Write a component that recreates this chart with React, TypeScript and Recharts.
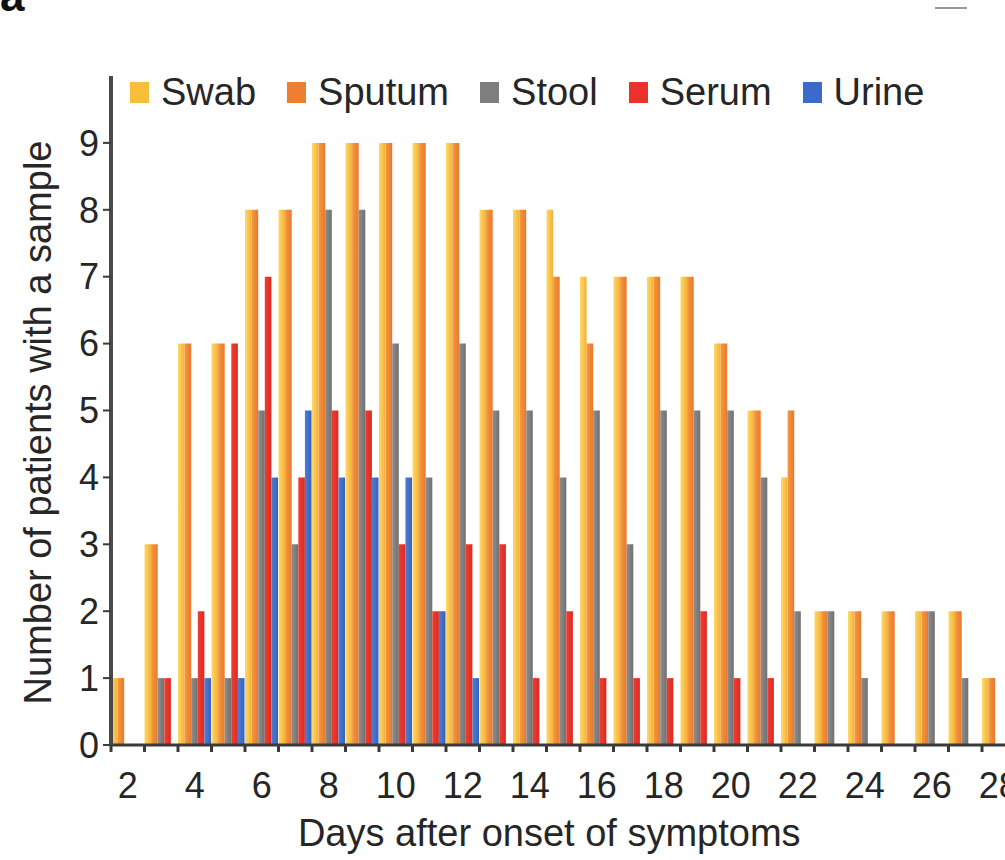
import { BarChart, Bar, XAxis, YAxis, Legend } from 'recharts'

// days after onset, one category per day
const days = [2, 3, 4, 5, 6, 7, 8, 9, 10, 11, 12, 13, 14, 15, 16, 17, 18, 19, 20, 21, 22, 23, 24, 25, 26, 27, 28]

// number of patients with a sample, per day
const swab = [1, 3, 6, 6, 8, 8, 9, 9, 9, 9, 9, 8, 8, 8, 7, 7, 7, 7, 6, 5, 4, 2, 2, 2, 2, 2, 1]
const sputum = [1, 3, 6, 6, 8, 8, 9, 9, 9, 9, 9, 8, 8, 7, 6, 7, 7, 7, 6, 5, 5, 2, 2, 2, 2, 2, 1]
const stool = [0, 1, 1, 1, 5, 3, 8, 8, 6, 4, 6, 5, 5, 4, 5, 3, 5, 5, 5, 4, 2, 2, 1, 0, 2, 1, 0]
const serum = [0, 1, 2, 6, 7, 4, 5, 5, 3, 2, 3, 3, 1, 2, 1, 1, 1, 2, 1, 1, 0, 0, 0, 0, 0, 0, 0]
const urine = [0, 0, 1, 1, 4, 5, 4, 4, 4, 2, 1, 0, 0, 0, 0, 0, 0, 0, 0, 0, 0, 0, 0, 0, 0, 0, 0]

const yTicks = [0, 1, 2, 3, 4, 5, 6, 7, 8, 9]

const series = [
  { key: 'swab', name: 'Swab', color: '#F7BE3A', from: '#FDD96A', to: '#F5B036' },
  { key: 'sputum', name: 'Sputum', color: '#EE7E31', from: '#F39A3D', to: '#EA782D' },
  { key: 'stool', name: 'Stool', color: '#7E7E7E', from: '#8E8E8E', to: '#707070' },
  { key: 'serum', name: 'Serum', color: '#E8322A', from: '#EF3E30', to: '#DC2A22' },
  { key: 'urine', name: 'Urine', color: '#3A6ACB', from: '#4F7ED4', to: '#3462BE' },
]

const data = days.map((day, i) => ({
  day,
  swab: swab[i],
  sputum: sputum[i],
  stool: stool[i],
  serum: serum[i],
  urine: urine[i],
}))

const FONT = '"Liberation Sans", Arial, Helvetica, sans-serif'
const INK = '#262626'
const AXIS = '#3a3a3a'

const CHART_W = 1030
const CHART_H = 860
const PLOT_LEFT = 111
const PLOT_TOP = 76
const PLOT_BOTTOM = 745
const PLOT_W = 904.5
const X_AXIS_H = CHART_H - PLOT_BOTTOM
const BAND = PLOT_W / days.length
const X_TICK_SIZE = 7
const X_TICK_MARGIN = 20

function DayTick(props: any) {
  const { x, y, payload } = props
  const half = typeof payload.offset === 'number' && payload.offset > 0 ? payload.offset : BAND / 2
  const axisY = y - X_TICK_SIZE - X_TICK_MARGIN
  return (
    <g>
      <line x1={x - half} x2={x - half} y1={axisY} y2={axisY + X_TICK_SIZE} stroke={AXIS} strokeWidth={3} />
      {payload.value % 2 === 0 && (
        <text x={x} y={y} dy="0.71em" textAnchor="middle" fontSize={36} fontFamily={FONT} fill={INK}>
          {payload.value}
        </text>
      )}
    </g>
  )
}

function XTitle(props: any) {
  const vb = props.viewBox ?? { x: PLOT_LEFT, y: PLOT_BOTTOM, width: PLOT_W, height: X_AXIS_H }
  return (
    <text x={vb.x + vb.width / 2 - 14} y={vb.y + 101} textAnchor="middle" fontSize={38} fontFamily={FONT} fill={INK}>
      Days after onset of symptoms
    </text>
  )
}

function YTitle(props: any) {
  const vb = props.viewBox ?? { x: 0, y: PLOT_TOP, width: PLOT_LEFT, height: PLOT_BOTTOM - PLOT_TOP }
  const cx = vb.x + 38
  const cy = vb.y + vb.height / 2 + 12
  return (
    <text
      x={cx}
      y={cy}
      transform={`rotate(-90, ${cx}, ${cy})`}
      textAnchor="middle"
      dominantBaseline="central"
      fontSize={38}
      fontFamily={FONT}
      fill={INK}
    >
      Number of patients with a sample
    </text>
  )
}

function LegendBox() {
  return (
    <div style={{ display: 'flex', alignItems: 'center', fontFamily: FONT, fontSize: 38, lineHeight: '38px', color: INK, whiteSpace: 'nowrap' }}>
      {series.map((s, i) => (
        <div key={s.key} style={{ display: 'flex', alignItems: 'center', marginLeft: i ? 31 : 0 }}>
          <span style={{ display: 'inline-block', width: 19, height: 21, background: s.color, marginRight: 12 }} />
          <span>{s.name}</span>
        </div>
      ))}
    </div>
  )
}

export default function App() {
  return (
    <div style={{ position: 'fixed', left: 0, top: 0, width: 1005, height: 860, overflow: 'hidden', background: '#fff' }}>
      <div style={{ position: 'absolute', left: 0, top: -26, fontSize: 44, lineHeight: '44px', fontWeight: 'bold', fontFamily: FONT, color: '#111' }}>
        a
      </div>
      <div style={{ position: 'absolute', left: 935, top: 7, width: 32, height: 2, background: '#9a9a9a' }} />
      <BarChart
        width={CHART_W}
        height={CHART_H}
        data={data}
        margin={{ top: PLOT_TOP, right: CHART_W - PLOT_LEFT - PLOT_W, bottom: 0, left: 0 }}
        barSize={6.6}
        barGap={0}
        barCategoryGap={0}
      >
        <defs>
          {series.map((s) => (
            <linearGradient key={s.key} id={`grad-${s.key}`} x1="0" y1="0" x2="1" y2="0">
              <stop offset="0%" stopColor={s.from} />
              <stop offset="100%" stopColor={s.to} />
            </linearGradient>
          ))}
        </defs>
        <XAxis
          dataKey="day"
          interval={0}
          height={X_AXIS_H}
          tickSize={X_TICK_SIZE}
          tickMargin={X_TICK_MARGIN}
          tickLine={false}
          axisLine={{ stroke: AXIS, strokeWidth: 3 }}
          tick={(p: any) => <DayTick {...p} />}
          label={(p: any) => <XTitle {...p} />}
        />
        <YAxis
          width={PLOT_LEFT}
          domain={[0, 10]}
          ticks={yTicks}
          interval={0}
          tickSize={8}
          tickMargin={4}
          axisLine={{ stroke: '#4a4a4a', strokeWidth: 4 }}
          tickLine={{ stroke: AXIS, strokeWidth: 2 }}
          tick={{ fontSize: 36, fill: INK, fontFamily: FONT }}
          label={(p: any) => <YTitle {...p} />}
        />
        <Legend
          layout="horizontal"
          verticalAlign="middle"
          align="center"
          content={() => <LegendBox />}
          wrapperStyle={{ left: 130, top: 73, width: 'auto', height: 'auto' }}
        />
        {series.map((s) => (
          <Bar key={s.key} dataKey={s.key} name={s.name} fill={`url(#grad-${s.key})`} isAnimationActive={false} />
        ))}
      </BarChart>
    </div>
  )
}
